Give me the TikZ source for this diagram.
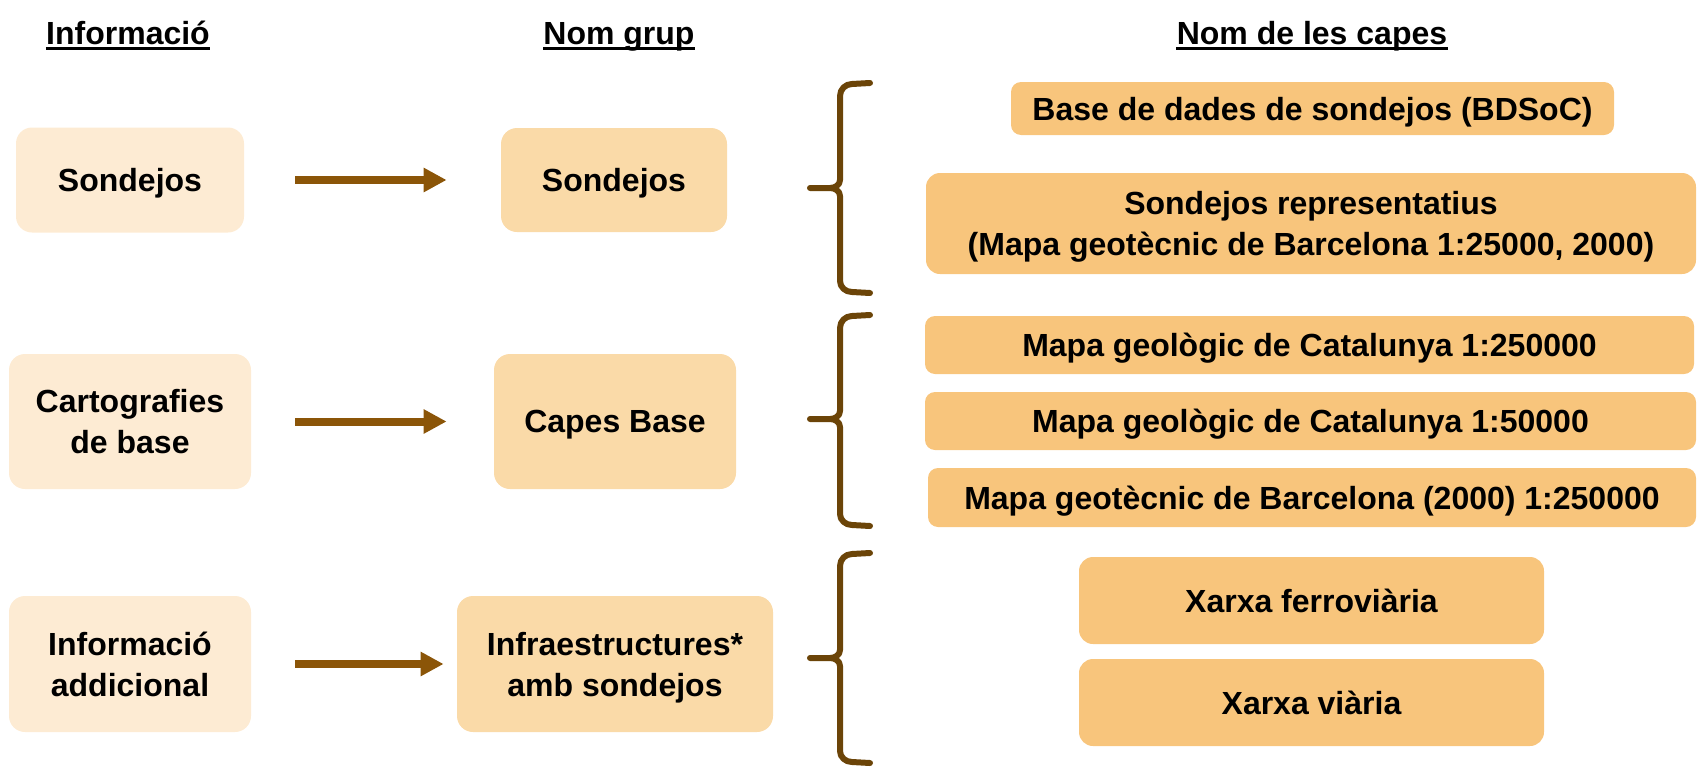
\documentclass[tikz,border=0pt]{standalone}
\usepackage{fontspec}
\setmainfont{Liberation Sans}
\usetikzlibrary{arrows.meta}
\definecolor{infofill}{HTML}{FDEBD3}
\definecolor{grupfill}{HTML}{FADAA8}
\definecolor{capafill}{HTML}{F8C57C}
\definecolor{arrowbrown}{HTML}{8B5508}
\definecolor{bracebrown}{HTML}{6B4408}

\begin{document}
\begin{tikzpicture}[x=0.5pt,y=-0.5pt,
    every node/.style={font=\bfseries\fontsize{16}{20.5}\selectfont, align=center, inner sep=0pt},
    info/.style={fill=infofill, rounded corners=8pt, text depth=0pt},
    grup/.style={fill=grupfill, rounded corners=8pt, text depth=0pt},
    capa/.style={fill=capafill, rounded corners=5pt, text depth=0pt},
    fletxa/.style={draw=arrowbrown, line width=4pt, -{Triangle[length=11.5pt,width=11.5pt]}},
    clau/.style={draw=bracebrown, line width=3pt, line cap=round, line join=round},
    subratllat/.style={line width=1.5pt}]
    \useasboundingbox (0,0) rectangle (1697,771);

    % Headers
    \node[anchor=base] (hinfo) at (128,44) {Informació};
    \node[anchor=base] (hgrup) at (619,44) {Nom grup};
    \node[anchor=base] (hcapes) at (1312,44) {Nom de les capes};
    \draw[subratllat] ([yshift=-2.25pt]hinfo.base west) -- ([yshift=-2.25pt]hinfo.base east);
    \draw[subratllat] ([yshift=-2.25pt]hgrup.base west) -- ([yshift=-2.25pt]hgrup.base east);
    \draw[subratllat] ([yshift=-2.25pt]hcapes.base west) -- ([yshift=-2.25pt]hcapes.base east);

    % Informacio
    \node[info, minimum width=114pt, minimum height=52.5pt] (i1) at (130,180) {Sondejos};
    \node[info, minimum width=121pt, minimum height=67.5pt] (i2) at (130,421.5) {Cartografies\\de base};
    \node[info, minimum width=121pt, minimum height=68pt] (i3) at (130,664) {Informació\\addicional};

    % Nom grup
    \node[grup, minimum width=113pt, minimum height=52pt] (g1) at (614,180) {Sondejos};
    \node[grup, minimum width=121pt, minimum height=67.5pt] (g2) at (615,421.5) {Capes Base};
    \node[grup, minimum width=158pt, minimum height=68pt] (g3) at (615,664) {Infraestructures*\\amb sondejos};

    % Arrows
    \draw[fletxa, shorten <=25.5pt, shorten >=27pt] (i1) -- (g1);
    \draw[fletxa, shorten <=22pt, shorten >=23.5pt] (i2) -- (g2);
    \draw[fletxa, shorten <=22pt, shorten >=6.5pt] (i3) -- (g3);

    % Nom de les capes
    \node[capa, minimum width=301.5pt, minimum height=26.5pt] (c1) at (1312.5,108.5) {Base de dades de sondejos (BDSoC)};
    \node[capa, rounded corners=7pt, minimum width=385pt, minimum height=50.5pt] (c2) at (1311,223.5) {Sondejos representatius\\(Mapa geotècnic de Barcelona 1:25000, 2000)};
    \node[capa, minimum width=384.5pt, minimum height=29pt] (c3) at (1309.5,345) {Mapa geològic de Catalunya 1:250000};
    \node[capa, minimum width=385.5pt, minimum height=29pt] (c4) at (1310.5,421) {Mapa geològic de Catalunya 1:50000};
    \node[capa, minimum width=384pt, minimum height=29.5pt] (c5) at (1312,497.5) {Mapa geotècnic de Barcelona (2000) 1:250000};
    \node[capa, rounded corners=7pt, minimum width=232.5pt, minimum height=43.5pt] (c6) at (1311.5,600.5) {Xarxa ferroviària};
    \node[capa, rounded corners=7pt, minimum width=232.5pt, minimum height=43.5pt] (c7) at (1311.5,702.5) {Xarxa viària};

    % Braces
    \coordinate (b1) at (810,188);
    \coordinate (b2) at (810,419);
    \coordinate (b3) at (810,658);
    \draw[clau] (870,83) -- (852,84) to[out=180,in=90] (840,96) -- (840,180) to[out=-90,in=0] (830,188) -- (b1)
                (b1) -- (830,188) to[out=0,in=90] (840,196) -- (840,281) to[out=-90,in=180] (852,292) -- (870,293);
    \draw[clau] (870,315) -- (852,316) to[out=180,in=90] (840,328) -- (840,411) to[out=-90,in=0] (830,419) -- (b2)
                (b2) -- (830,419) to[out=0,in=90] (840,427) -- (840,514) to[out=-90,in=180] (852,525) -- (870,526);
    \draw[clau] (870,553) -- (852,554) to[out=180,in=90] (840,566) -- (840,650) to[out=-90,in=0] (830,658) -- (b3)
                (b3) -- (830,658) to[out=0,in=90] (840,666) -- (840,751) to[out=-90,in=180] (852,762) -- (870,763);
\end{tikzpicture}
\end{document}
